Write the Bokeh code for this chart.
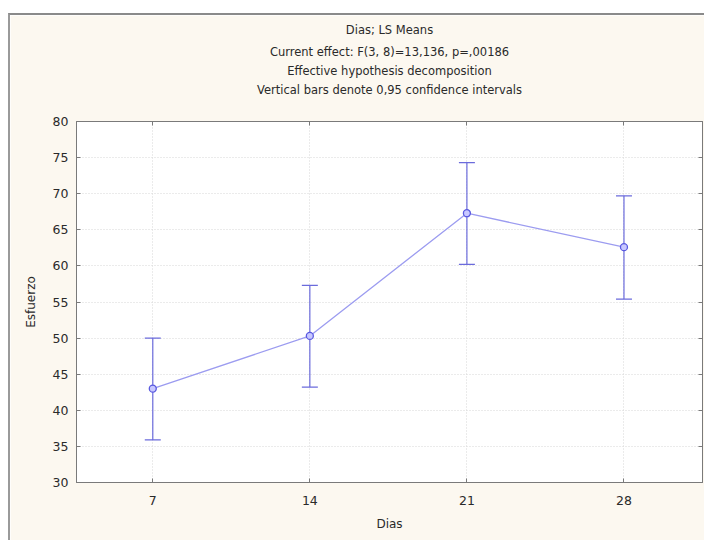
from bokeh.plotting import figure
from bokeh.models import (ColumnDataSource, Whisker, TeeHead, FixedTicker, LinearAxis,
                          Title, Range1d)
from bokeh.embed import file_html
from bokeh.resources import INLINE

# data
dias = [7, 14, 21, 28]
means = [43.0, 50.3, 67.3, 62.6]
lower = [35.9, 43.2, 60.2, 55.4]
upper = [50.0, 57.3, 74.3, 69.7]
y_ticks = [30, 35, 40, 45, 50, 55, 60, 65, 70, 75, 80]
title_lines = ["Dias; LS Means",
               "Current effect: F(3, 8)=13,136, p=,00186",
               "Effective hypothesis decomposition",
               "Vertical bars denote 0,95 confidence intervals"]

FONT = "DejaVu Sans"
BG = "#fcf8f0"
TXT = "#2a2a2a"

src = ColumnDataSource(dict(x=dias, y=means, lo=lower, hi=upper))

p = figure(width=696, height=527, output_backend="svg", toolbar_location=None,
           x_range=Range1d(3.6, 31.5), y_range=Range1d(30, 80),
           min_border_left=66, min_border_right=4, min_border_bottom=60, min_border_top=4)
p.title = None
p.margin = (13, 0, 0, 8)
p.styles = {"border-top": "2px solid #8a8a8a", "border-left": "2px solid #9a9a9a"}
p.border_fill_color = BG
p.background_fill_color = "white"
p.outline_line_color = "#7a7a7a"
p.outline_line_width = 1

main_x = p.xaxis[0]
main_y = p.yaxis[0]
for ax in (main_x, main_y):
    ax.major_tick_in = 4
    ax.major_tick_out = 0
    ax.minor_tick_line_color = None
    ax.axis_line_color = "#7a7a7a"
    ax.major_tick_line_color = "#7a7a7a"
    ax.major_label_text_font = FONT
    ax.major_label_text_font_size = "12.5px"
    ax.major_label_text_color = TXT
    ax.axis_label_text_font = FONT
    ax.axis_label_text_font_size = "12px"
    ax.axis_label_text_font_style = "normal"
    ax.axis_label_text_color = TXT

main_x.ticker = FixedTicker(ticks=dias)
main_y.ticker = FixedTicker(ticks=y_ticks)
main_x.axis_label = "Dias"
main_y.axis_label = "Esfuerzo"
main_x.major_label_standoff = 13
main_y.major_label_standoff = 8
main_x.axis_label_standoff = 9
main_y.axis_label_standoff = 12

top_ax = LinearAxis(ticker=FixedTicker(ticks=dias), major_label_text_font_size="0px",
                    major_tick_in=4, major_tick_out=0, minor_tick_line_color=None,
                    axis_line_color="#7a7a7a", major_tick_line_color="#7a7a7a")
top_ax.major_label_text_color = None
p.add_layout(top_ax, "above")

right_ax = LinearAxis(ticker=FixedTicker(ticks=y_ticks), major_label_text_font_size="0px",
                      major_tick_in=4, major_tick_out=0, minor_tick_line_color=None,
                      axis_line_color="#7a7a7a", major_tick_line_color="#7a7a7a")
right_ax.major_label_text_color = None
p.add_layout(right_ax, "right")

# invisible spacer between the title block and the frame
p.add_layout(Title(text=" ", text_font_size="1px", standoff=20), "above")

n = len(title_lines)
for i, line in enumerate(reversed(title_lines)):
    t = Title(text=line, align="center", text_font=FONT, text_font_size="11.5px",
              text_font_style="normal", text_color=TXT,
              standoff=(10 if i == n - 1 else 3), offset=0)
    p.add_layout(t, "above")

p.xgrid.ticker = FixedTicker(ticks=dias)
p.ygrid.ticker = FixedTicker(ticks=y_ticks)
p.grid.grid_line_color = "#d6d6d6"
p.grid.grid_line_dash = "1 2"

p.line("x", "y", source=src, line_color="#9c9cf0", line_width=1.3)
w = Whisker(base="x", lower="lo", upper="hi", source=src, line_color="#6b6bdc", line_width=1.2,
            upper_head=TeeHead(size=16, line_color="#6b6bdc", line_width=1.2),
            lower_head=TeeHead(size=16, line_color="#6b6bdc", line_width=1.2))
p.add_layout(w)
p.scatter("x", "y", source=src, marker="circle", size=7, fill_color="#c8c8ff",
          line_color="#5a5ae0", line_width=1.3)

open("out.html", "w").write(file_html(p, INLINE))
